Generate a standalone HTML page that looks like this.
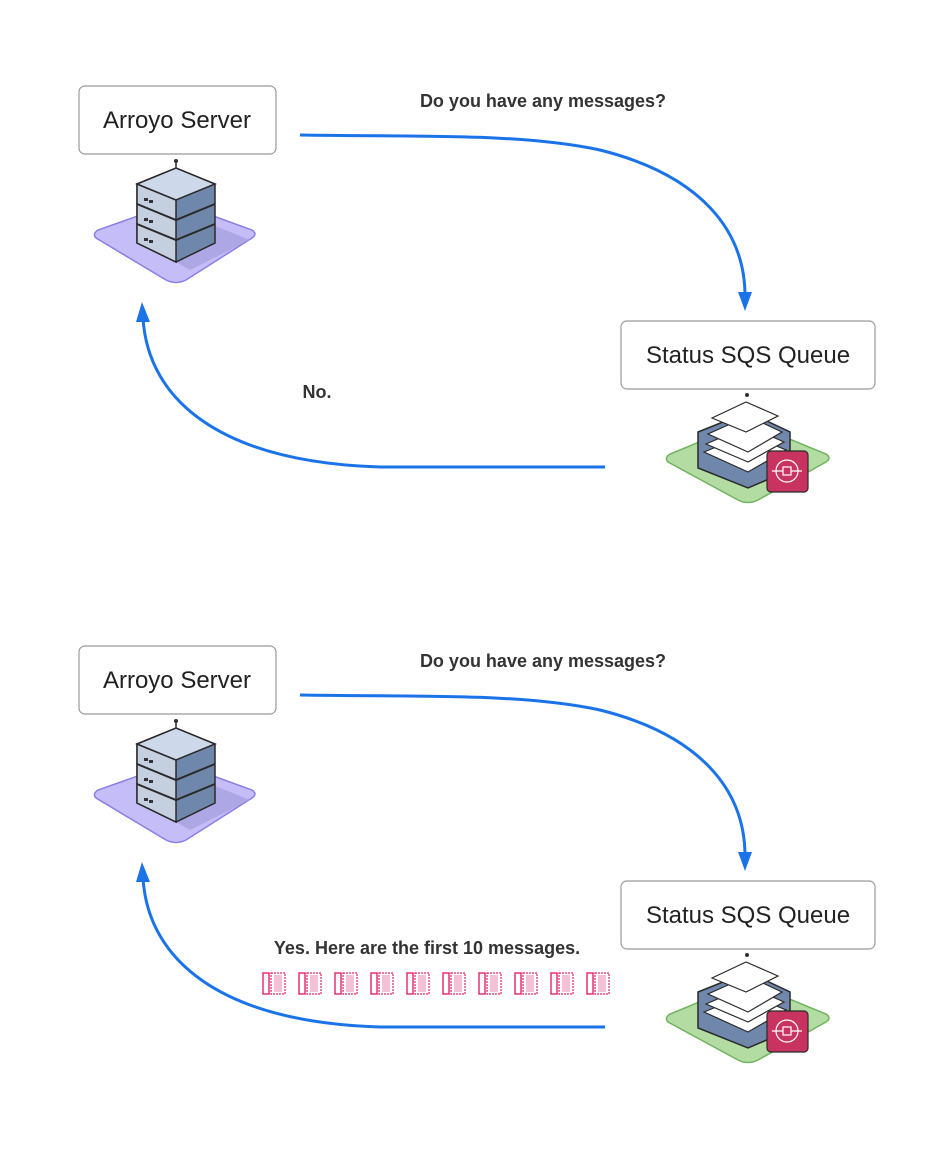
<!DOCTYPE html>
<html><head><meta charset="utf-8"><style>
body{margin:0;background:#fff;}
svg text{font-family:"Liberation Sans",sans-serif;}
</style></head><body>
<svg width="952" height="1146" viewBox="0 0 952 1146" xmlns="http://www.w3.org/2000/svg">
<defs>
<g id="server">
  <path d="M96 238 Q92 234 98 230 L166 206 Q176 203 186 206 L252 230 Q258 234 252 238 L186 280 Q176 285 166 280 Z" fill="#c5bdf7" stroke="#8a7ee8" stroke-width="1.5"/>
  <path d="M176 210 L250 240 L190 270 L176 262 Z" fill="#9f97d8" opacity="0.6"/>
  <line x1="176" y1="162" x2="176" y2="168" stroke="#333" stroke-width="1.5"/>
  <circle cx="176" cy="161" r="2" fill="#333"/>
  <path d="M137 184 L176 168 L215 184 L215 243 L176 262 L137 243 Z" fill="#6f87ab" stroke="#2a2a2a" stroke-width="1.5"/>
  <path d="M137 184 L176 200 L176 262 L137 243 Z" fill="#c4cfe0" stroke="#2a2a2a" stroke-width="1.5"/>
  <path d="M137 184 L176 168 L215 184 L176 200 Z" fill="#cdd8ea" stroke="#2a2a2a" stroke-width="1.5"/>
  <path d="M137 204 L176 220 L215 204 M137 224 L176 240 L215 224" fill="none" stroke="#2a2a2a" stroke-width="2"/>
  <g fill="#333"><rect x="144" y="198" width="4" height="3"/><rect x="149" y="200" width="4" height="3"/><rect x="144" y="218" width="4" height="3"/><rect x="149" y="220" width="4" height="3"/><rect x="144" y="238" width="4" height="3"/><rect x="149" y="240" width="4" height="3"/></g>
</g>
<g id="queue">
  <path d="M668 462 Q664 458 670 454 L738 426 Q748 422 758 426 L826 454 Q832 458 826 462 L758 500 Q748 505 738 500 Z" fill="#b3dca3" stroke="#6fb45d" stroke-width="1.5"/>
  <path d="M698 432 L748 412 L790 432 L790 470 L748 488 L698 468 Z" fill="#6f87ab" stroke="#2a2a2a" stroke-width="1.5"/>
  <path d="M704 452 L748 434 L786 450 L748 472 Z" fill="#fff" stroke="#2a2a2a" stroke-width="1.2"/>
  <path d="M706 444 L748 426 L784 442 L748 462 Z" fill="#fff" stroke="#2a2a2a" stroke-width="1.2"/>
  <path d="M708 434 L748 416 L782 432 L748 452 Z" fill="#fff" stroke="#2a2a2a" stroke-width="1.2"/>
  <path d="M712 418 L746 402 L778 416 L746 432 Z" fill="#fff" stroke="#2a2a2a" stroke-width="1.2"/>
  <circle cx="747" cy="395" r="2" fill="#333"/>
  <rect x="767" y="451" width="41" height="41" rx="4" fill="#c8345f" stroke="#2a2a2a" stroke-width="1.2"/>
  <circle cx="787" cy="471" r="11" fill="none" stroke="#fff" stroke-width="1.2"/>
  <rect x="783" y="467" width="8" height="8" fill="none" stroke="#fff" stroke-width="1.2"/>
  <path d="M772 471 H783 M791 471 H802" stroke="#fff" stroke-width="1.2"/>
</g>
<g id="half">
  <rect x="79" y="86" width="197" height="68" rx="6" fill="#fff" stroke="#9a9a9a" stroke-width="1.2"/>
  <text x="177" y="128" font-size="24" text-anchor="middle" fill="#222">Arroyo Server</text>
  <rect x="621" y="321" width="254" height="68" rx="6" fill="#fff" stroke="#9a9a9a" stroke-width="1.2"/>
  <text x="748" y="363" font-size="24" text-anchor="middle" fill="#222">Status SQS Queue</text>
  <text x="543" y="107" font-size="18" font-weight="bold" text-anchor="middle" fill="#333">Do you have any messages?</text>
  <use href="#server"/>
  <use href="#queue"/>
  <path d="M300 135 C 420 137, 520 133, 600 150 C 700 175, 745 230, 745 296" fill="none" stroke="#1a73e8" stroke-width="3"/>
  <path d="M738 292 L745 311 L752 292 Z" fill="#1a73e8"/>
  <path d="M605 467 L 380 467 C 220 462, 148 400, 143 318" fill="none" stroke="#1a73e8" stroke-width="3"/>
  <path d="M136 322 L142 302 L150 322 Z" fill="#1a73e8"/>
</g>
<g id="tofu">
  <rect x="0" y="0" width="6" height="21" fill="none" stroke="#e0246a" stroke-width="1.4"/>
  <rect x="8" y="0" width="14" height="21" fill="none" stroke="#e0246a" stroke-width="1.2" stroke-dasharray="2 1"/>
  <rect x="11" y="2" width="8" height="17" fill="#f3b3cb" opacity="0.8"/>
</g>
</defs>
<use href="#half"/>
<text x="317" y="398" font-size="18" font-weight="bold" text-anchor="middle" fill="#333">No.</text>
<use href="#half" y="560"/>
<text x="427" y="954" font-size="18" font-weight="bold" text-anchor="middle" fill="#333">Yes. Here are the first 10 messages.</text>
<g transform="translate(263,973)">
<use href="#tofu" x="0"/><use href="#tofu" x="36"/><use href="#tofu" x="72"/><use href="#tofu" x="108"/><use href="#tofu" x="144"/><use href="#tofu" x="180"/><use href="#tofu" x="216"/><use href="#tofu" x="252"/><use href="#tofu" x="288"/><use href="#tofu" x="324"/>
</g>
</svg>
</body></html>
